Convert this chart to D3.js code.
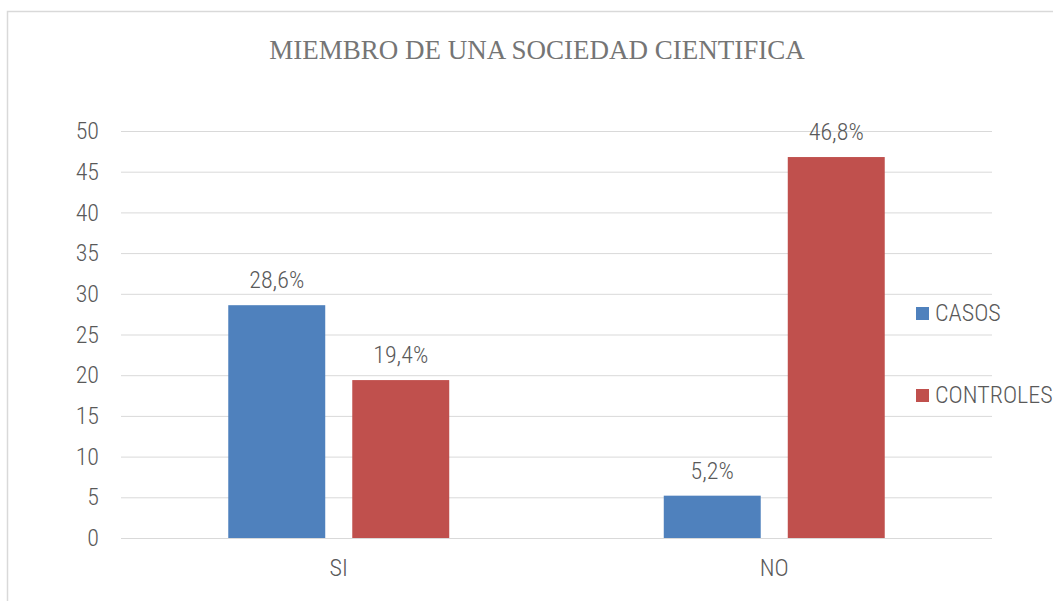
<!DOCTYPE html>
<html><head><meta charset="utf-8">
<script src="https://cdn.jsdelivr.net/npm/d3@7"></script>
<style>body{margin:0;background:#fff}svg{display:block}</style>
</head><body>
<script>
const categories = ["SI", "NO"];
const seriesNames = ["CASOS", "CONTROLES"];
const casos = [28.6, 5.2];
const controles = [19.4, 46.8];
const yTicks = [0, 5, 10, 15, 20, 25, 30, 35, 40, 45, 50];
const title = "MIEMBRO DE UNA SOCIEDAD CIENTIFICA";
const colors = ["#4f81bd", "#c0504d"];

const W = 1053, H = 601;
const svg = d3.select("body").append("svg").attr("width", W).attr("height", H);
svg.append("rect").attr("x", 7.5).attr("y", 11.5).attr("width", W + 10).attr("height", H + 10)
  .attr("fill", "#fff").attr("stroke", "#d9d9d9").attr("stroke-width", 1.5);

const mLeft = 121, mRight = 992, mTop = 131, mBottom = 538;
const x0 = d3.scaleBand().domain(categories).range([mLeft, mRight]).paddingInner(0).paddingOuter(0);
const y = d3.scaleLinear().domain([0, 50]).range([mBottom, mTop]);
const x1 = d3.scaleBand().domain(seriesNames).range([0, x0.bandwidth()]).paddingInner(0.218).paddingOuter(0.865);

const font = "'Roboto Condensed', 'Liberation Sans Narrow', 'Roboto', sans-serif";
const fw = 300;
const fs = 24;
const txt = "#595959";

svg.append("text").attr("x", 537).attr("y", 59).attr("text-anchor", "middle")
  .attr("font-family", "'Liberation Serif', serif").attr("font-size", 27).attr("fill", "#757575")
  .text(title);

const yAxis = svg.append("g").attr("transform", `translate(${mLeft},0)`)
  .call(d3.axisLeft(y).tickValues(yTicks).tickSize(-(mRight - mLeft)).tickPadding(22));
yAxis.select(".domain").remove();
yAxis.selectAll(".tick line").attr("stroke", "#d9d9d9").attr("stroke-width", 1);
yAxis.selectAll(".tick text").attr("font-family", font).attr("font-weight", fw).attr("font-size", fs).attr("fill", txt);

const xAxis = svg.append("g").attr("transform", `translate(0,${mBottom})`)
  .call(d3.axisBottom(x0).tickSize(0).tickPadding(21));
xAxis.select(".domain").remove();
xAxis.selectAll(".tick text").attr("font-family", font).attr("font-weight", fw).attr("font-size", fs).attr("fill", txt);

const rows = categories.map((c, i) => ({cat: c, vals: [casos[i], controles[i]]}));
const g = svg.append("g").selectAll("g").data(rows).join("g")
  .attr("transform", d => `translate(${x0(d.cat)},0)`);
g.selectAll("rect").data(d => d.vals.map((v, j) => ({s: seriesNames[j], v, j}))).join("rect")
  .attr("x", d => x1(d.s)).attr("width", x1.bandwidth())
  .attr("y", d => y(d.v)).attr("height", d => y(0) - y(d.v))
  .attr("fill", d => colors[d.j]);
g.selectAll("text").data(d => d.vals.map((v, j) => ({s: seriesNames[j], v, j}))).join("text")
  .attr("x", d => x1(d.s) + x1.bandwidth() / 2).attr("y", d => y(d.v) - 17)
  .attr("text-anchor", "middle").attr("font-family", font).attr("font-weight", fw).attr("font-size", fs).attr("fill", txt)
  .text(d => d3.format(".1f")(d.v).replace(".", ",") + "%");

const leg = svg.append("g").selectAll("g").data(seriesNames).join("g")
  .attr("transform", (d, i) => `translate(916,${307 + i * 82})`);
leg.append("rect").attr("width", 13).attr("height", 13).attr("fill", (d, i) => colors[i]);
leg.append("text").attr("x", 19).attr("y", 14).attr("font-family", font).attr("font-weight", fw).attr("font-size", fs).attr("fill", txt).text(d => d);
</script>
</body></html>
